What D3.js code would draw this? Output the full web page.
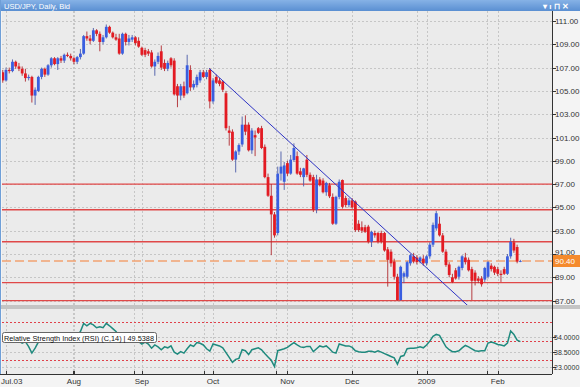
<!DOCTYPE html>
<html>
<head>
<meta charset="utf-8">
<script src="https://cdn.jsdelivr.net/npm/d3@7"></script>
<style>
  body { margin: 0; background: #fff; }
  svg { display: block; font-family: "Liberation Sans", Arial, sans-serif; }
</style>
</head>
<body>
<svg width="580" height="387"></svg>
<script>
// daily bars [open, high, low, close], first bar = Jul 2 2008
const candles = [
  // Jul
  [106.6,106.8,105.7,105.9],[105.9,107.0,105.8,106.8],[106.8,107.0,106.5,106.7],[106.7,107.7,106.6,107.5],
  [107.5,107.6,106.9,107.1],[107.1,107.4,106.7,106.9],[106.9,107.1,106.3,106.5],[106.5,106.9,105.8,106.1],
  [106.1,106.4,105.9,106.2],[106.2,106.3,104.0,104.6],[104.6,105.3,103.8,105.1],[105.0,106.3,104.9,106.2],
  [106.2,107.0,106.0,106.9],[106.9,107.0,106.2,106.4],[106.4,107.3,106.3,107.2],[107.2,107.9,107.0,107.8],
  [107.8,107.9,107.2,107.3],[107.3,107.9,106.8,107.8],[107.8,108.0,107.4,107.6],[107.6,108.2,107.4,108.1],
  [108.1,108.3,107.9,108.0],[108.0,108.2,107.6,107.8],
  // Aug
  [107.8,107.9,107.3,107.5],[107.5,108.0,107.3,107.9],[107.9,108.6,107.7,108.2],[108.2,109.8,108.1,109.7],
  [109.7,110.1,109.3,109.5],[109.5,109.8,109.0,109.3],[109.3,110.4,109.2,110.2],[110.2,110.3,109.7,109.9],
  [109.9,110.1,108.4,109.2],[109.2,109.8,109.0,109.6],[109.6,110.7,109.5,110.5],[110.5,110.6,109.9,110.0],
  [110.0,110.1,109.5,109.6],[109.6,109.9,109.3,109.4],[109.5,109.9,108.1,108.2],[108.2,110.0,108.1,109.9],
  [109.9,110.0,108.9,109.2],[109.2,109.8,108.9,109.5],[109.4,109.8,109.2,109.6],[109.6,109.7,108.9,109.1],
  [109.3,109.6,108.7,108.8],
  // Sep
  [108.7,108.8,108.0,108.1],[108.5,108.7,107.9,108.1],[108.4,108.6,108.0,108.2],[108.3,108.5,107.0,107.1],
  [107.1,107.7,106.3,107.5],[107.5,108.3,107.3,108.0],[108.4,108.9,106.8,107.0],[107.4,107.7,106.7,106.9],
  [106.9,107.6,106.7,107.4],[107.8,107.9,107.0,107.2],[107.6,107.8,104.6,104.7],[105.4,105.6,103.6,104.6],
  [104.6,105.6,104.2,105.4],[105.4,105.8,104.4,104.6],[104.8,108.1,104.7,107.2],[106.8,107.2,105.0,105.3],
  [105.3,105.9,105.1,105.6],[105.5,106.4,105.3,106.2],[105.9,106.8,105.7,106.6],[106.6,106.8,106.1,106.2],
  [106.2,106.8,106.0,106.6],[106.8,106.95,103.5,104.1],
  // Oct
  [104.1,106.1,103.9,105.9],[106.2,106.4,105.6,105.7],[105.9,106.1,105.4,105.6],[105.8,105.9,104.9,105.1],
  [104.8,105.0,101.6,101.8],[101.6,102.0,100.3,101.4],[101.5,101.7,99.0,99.1],[99.1,99.9,98.0,99.8],
  [99.8,100.5,99.5,100.35],[100.4,102.8,100.2,102.1],[102.1,102.9,101.2,101.5],[102.1,102.3,99.8,99.9],
  [99.9,101.8,99.6,101.6],[101.2,101.6,99.4,101.0],[101.8,101.9,101.3,101.4],[101.8,102.0,100.0,100.1],
  [100.2,100.4,97.5,97.6],[97.6,97.9,95.9,96.0],[96.0,97.0,90.9,94.4],[94.4,94.6,92.4,92.6],
  [92.8,98.5,92.6,97.9],[97.9,99.8,97.3,98.5],[97.2,98.9,96.5,98.6],
  // Nov
  [98.8,99.0,97.7,97.9],[97.9,99.5,97.8,99.1],[99.07,100.5,98.9,100.1],[99.4,99.8,97.8,97.9],
  [98.1,98.4,97.6,97.8],[97.6,98.4,96.8,98.35],[99.1,99.5,97.6,97.8],[97.8,98.0,97.2,97.3],
  [97.6,97.8,94.6,94.8],[94.8,97.8,94.5,97.4],[97.4,97.6,96.8,96.9],[97.3,97.5,96.2,96.3],
  [96.3,97.2,96.0,97.1],[96.9,97.1,95.8,95.95],[95.9,96.2,93.5,93.6],[93.6,96.0,93.5,95.9],
  [95.9,97.4,95.7,97.2],[97.35,97.4,94.9,95.05],[95.8,96.0,95.0,95.2],[95.2,95.8,95.0,95.6],
  // Dec
  [95.6,95.8,94.9,95.0],[95.5,95.6,92.9,93.05],[93.6,93.9,92.9,93.05],[93.3,93.8,92.8,93.0],
  [93.3,93.5,92.8,92.9],[93.35,93.5,91.9,92.05],[92.05,93.0,91.6,92.9],[92.8,93.0,92.4,92.6],
  [92.8,92.9,91.9,92.05],[92.8,93.0,91.9,92.05],[92.8,92.9,91.2,91.3],[91.4,91.6,88.2,90.5],
  [91.2,91.4,89.9,90.2],[90.35,90.6,88.8,89.05],[89.05,89.3,87.0,87.05],[87.05,90.0,87.0,89.9],
  [89.05,89.5,88.5,89.35],[89.05,90.4,88.9,90.3],[90.2,91.0,90.0,90.9],[90.8,91.1,90.2,90.35],
  [90.7,90.9,90.1,90.3],[90.4,90.8,90.2,90.7],[90.6,90.9,90.0,90.2],
  // Jan
  [90.2,90.9,90.0,90.8],[90.8,92.0,90.6,91.8],[91.8,93.7,91.6,93.5],[93.2,94.7,93.0,94.5],
  [93.6,94.2,92.5,92.6],[92.6,92.8,91.1,91.2],[91.2,91.4,89.9,90.05],[90.1,90.3,89.0,89.2],
  [89.0,89.3,88.5,88.6],[89.6,89.8,88.8,88.9],[89.05,90.0,88.8,89.9],[89.8,90.9,89.6,90.8],
  [90.7,91.1,90.1,90.3],[90.5,90.7,89.5,89.6],[89.7,89.9,87.05,88.7],[89.4,89.6,88.3,88.7],
  [88.9,89.1,88.5,88.7],[88.9,89.1,88.2,88.4],[88.8,89.9,88.6,89.8],[89.05,90.4,88.9,90.3],
  [90.0,90.2,89.5,89.7],[89.9,90.0,89.2,89.4],
  // Feb
  [89.7,89.9,89.1,89.3],[89.3,89.6,88.6,89.2],[89.7,89.9,89.2,89.3],[89.3,91.0,89.2,90.8],
  [90.8,92.4,90.6,92.05],[92.0,92.3,91.1,91.3],[91.6,91.8,90.2,90.35],[90.35,90.5,90.3,90.4]
];

// RSI(14), one value per bar
const rsiValues = [
  50,51,52,53,51,50,48,49.5,44.3,37.5,42.6,49,52,51,53,54,52,53,52,54,53,52,
  54,56,60,68.5,66,68.5,67,64,65,64,68.5,66,63,60,55,56,55,53,52,50,49.5,
  47,49,47,42.6,46,44,41,44,43,45,38.5,36.4,39,37.5,42,46,44.5,48.5,47.8,46,42,39.5,
  47,46,45,43,38,33,27.8,31,32,41,40,36,41,42,43,41,37,33.5,30,23.5,40,41,42,
  43.5,46,48.5,46,44,43.5,44.5,44.5,39,42,45,44,45,42,38.5,37.5,47,46,45,45,
  43.5,40,39,38.5,38.5,39.5,39.5,38.5,40,38.5,37,35.5,34,32.5,26,34,35,42,42.5,42.5,43,44,43,
  46,50,55,57,56,50,44,41,39,39,40,43,45.5,44,42,40,39.5,40,40,48,49,48,
  46.5,46,45,48,60.5,57,51,49.54
];

const priceTicks = [87, 89, 91, 93, 95, 97, 99, 101, 103, 105, 107, 109, 111];
const rsiTicks = [23, 38.5, 54];
const rsiLevels = [30, 50, 70];
const levelLines = [97.0, 94.8, 92.05, 88.55, 87.0];
const lastPrice = 90.40;
const lastRsi = 49.5388;
const monthLabels = ["Jul.03", "Aug", "Sep", "Oct", "Nov", "Dec", "2009", "Feb"];
const monthIdx = [1, 22, 43, 65, 88, 108, 131, 153];
const gridIdx = [21.6, 40.6, 62.2, 84.5, 108, 128, 149.7];
const trendIdx = [63.8, 144.1];
const trendPrice = [106.94, 86.48];

const svg = d3.select("svg");
const L = 2, R = 552, T = 11, B = 305, RT = 309, RB = 374;

// scales
const x = d3.scaleLinear().domain([0, 160]).range([2.77, 2.77 + 160 * 3.235]);
const y = d3.scaleLinear().domain([87, 111]).range([300.6, 21]);
const yr = d3.scaleLinear().domain([23, 54]).range([367, 337.3]);

// backgrounds
svg.append("rect").attr("width", 580).attr("height", 387).attr("fill", "#f4f4f4");
svg.append("rect").attr("x", L).attr("y", T).attr("width", R - L).attr("height", B - T).attr("fill", "#ebebeb");
svg.append("rect").attr("x", 0).attr("y", B).attr("width", 580).attr("height", RT - B).attr("fill", "#c4c4c4");
svg.append("rect").attr("x", L).attr("y", RT).attr("width", R - L).attr("height", RB - RT).attr("fill", "#ebebeb");

const defs = svg.append("defs");
defs.append("clipPath").attr("id", "clipMain")
  .append("rect").attr("x", L).attr("y", T).attr("width", R - L).attr("height", B - T);
defs.append("clipPath").attr("id", "clipRsi")
  .append("rect").attr("x", L).attr("y", RT).attr("width", R - L).attr("height", RB - RT);
const grad = defs.append("linearGradient").attr("id", "titleGrad").attr("x1", 0).attr("y1", 0).attr("x2", 0).attr("y2", 1);
grad.append("stop").attr("offset", "0%").attr("stop-color", "#86b2e6");
grad.append("stop").attr("offset", "100%").attr("stop-color", "#5a8fd2");

// grid lines
const allIdx = gridIdx.concat(monthIdx);
const grid = svg.append("g").attr("stroke", "#c6c6c6").attr("stroke-dasharray", "2,2").attr("stroke-width", 1);
grid.selectAll(".hg").data(priceTicks).enter().append("line")
  .attr("x1", L).attr("x2", R).attr("y1", d => Math.round(y(d)) + 0.5).attr("y2", d => Math.round(y(d)) + 0.5);
grid.selectAll(".vg").data(allIdx).enter().append("line")
  .attr("x1", d => Math.round(x(d)) + 0.5).attr("x2", d => Math.round(x(d)) + 0.5).attr("y1", T).attr("y2", B);
grid.selectAll(".vr").data(allIdx).enter().append("line")
  .attr("x1", d => Math.round(x(d)) + 0.5).attr("x2", d => Math.round(x(d)) + 0.5).attr("y1", RT).attr("y2", RB);
grid.selectAll(".rg").data(rsiTicks).enter().append("line")
  .attr("x1", L).attr("x2", R).attr("y1", d => Math.round(yr(d)) + 0.5).attr("y2", d => Math.round(yr(d)) + 0.5);

// support / resistance lines
const main = svg.append("g").attr("clip-path", "url(#clipMain)");
main.selectAll(".lvl").data(levelLines).enter().append("line")
  .attr("x1", L).attr("x2", R).attr("y1", d => y(d)).attr("y2", d => y(d))
  .attr("stroke", "#e04848").attr("stroke-width", 1.3);

// last price dashed line
main.append("line")
  .attr("x1", L).attr("x2", R).attr("y1", y(lastPrice)).attr("y2", y(lastPrice))
  .attr("stroke", "#f2a272").attr("stroke-width", 1.3).attr("stroke-dasharray", "9,4");

// candles
const up = "#3a5ee0", down = "#e31b23";
const bars = main.selectAll(".c").data(candles).enter().append("g");
bars.append("line")
  .attr("x1", (d, i) => x(i)).attr("x2", (d, i) => x(i))
  .attr("y1", d => y(d[1])).attr("y2", d => y(d[2]))
  .attr("stroke", d => d[3] >= d[0] ? "#4a5aa8" : "#b02a30").attr("stroke-width", 0.9);
bars.append("rect")
  .attr("x", (d, i) => x(i) - 1.4).attr("width", 2.8)
  .attr("y", d => y(Math.max(d[0], d[3])))
  .attr("height", d => Math.max(0.8, Math.abs(y(d[0]) - y(d[3]))))
  .attr("fill", d => d[3] >= d[0] ? up : down);

// trend line
main.append("line")
  .attr("x1", x(trendIdx[0])).attr("y1", y(trendPrice[0]))
  .attr("x2", x(trendIdx[1])).attr("y2", y(trendPrice[1]))
  .attr("stroke", "#2f34c4").attr("stroke-width", 1);

// RSI panel
const rsiG = svg.append("g").attr("clip-path", "url(#clipRsi)");
rsiG.selectAll(".rl").data(rsiLevels).enter().append("line")
  .attr("x1", L).attr("x2", R).attr("y1", d => Math.round(yr(d)) + 0.5).attr("y2", d => Math.round(yr(d)) + 0.5)
  .attr("stroke", "#e0404a").attr("stroke-dasharray", "2,2");
rsiG.append("path")
  .datum(rsiValues)
  .attr("fill", "none")
  .attr("stroke", "#1f8a7e")
  .attr("stroke-width", 1.5)
  .attr("d", d3.line().x((d, i) => x(i)).y(d => yr(d)));

// RSI legend
svg.append("rect").attr("x", 2.5).attr("y", 332.5).attr("width", 154).attr("height", 10)
  .attr("rx", 2).attr("fill", "#fff").attr("stroke", "#666");
svg.append("text").attr("x", 4).attr("y", 340.5)
  .style("font-size", "7.5px").attr("fill", "#111")
  .attr("textLength", 150).attr("lengthAdjust", "spacingAndGlyphs")
  .text("Relative Strength Index (RSI) (C,14) | " + lastRsi.toFixed(4));

// price axis
svg.append("line").attr("x1", R + 0.5).attr("x2", R + 0.5).attr("y1", T).attr("y2", RB).attr("stroke", "#333");
const pAxis = svg.append("g");
pAxis.selectAll("line").data(priceTicks).enter().append("line")
  .attr("x1", R).attr("x2", R + 4).attr("y1", d => Math.round(y(d)) + 0.5).attr("y2", d => Math.round(y(d)) + 0.5)
  .attr("stroke", "#333");
pAxis.selectAll("text").data(priceTicks.filter(d => Math.abs(y(d) - y(lastPrice)) > 8)).enter().append("text")
  .attr("x", R + 3).attr("y", d => y(d) + 3)
  .style("font-size", "8px").attr("fill", "#333")
  .text(d => d3.format(".2f")(d));

// last price tag (sits just under the 91.00 label)
svg.append("text").attr("x", R + 3).attr("y", y(91) + 1)
  .style("font-size", "8px").attr("fill", "#333").text("91.00");
svg.append("rect").attr("x", R + 1).attr("y", y(lastPrice) - 6).attr("width", 27).attr("height", 12)
  .attr("fill", "#f58a2c");
svg.append("text").attr("x", R + 3).attr("y", y(lastPrice) + 3)
  .style("font-size", "8px").attr("fill", "#fff").text(lastPrice.toFixed(2));

// rsi axis
const rAxis = svg.append("g");
rAxis.selectAll("line").data(rsiTicks).enter().append("line")
  .attr("x1", R).attr("x2", R + 4).attr("y1", d => Math.round(yr(d)) + 0.5).attr("y2", d => Math.round(yr(d)) + 0.5)
  .attr("stroke", "#333");
rAxis.selectAll("text").data(rsiTicks).enter().append("text")
  .attr("x", R + 2).attr("y", d => yr(d) + 3)
  .style("font-size", "7px").attr("fill", "#333")
  .text(d => d3.format(".4f")(d));

// date axis (first label kept inside the frame)
svg.append("line").attr("x1", 0).attr("x2", R).attr("y1", RB + 0.5).attr("y2", RB + 0.5).attr("stroke", "#333");
svg.append("g").selectAll("line").data(allIdx).enter().append("line")
  .attr("x1", d => Math.round(x(d)) + 0.5).attr("x2", d => Math.round(x(d)) + 0.5)
  .attr("y1", RB - 3).attr("y2", RB).attr("stroke", "#333");
svg.append("g").selectAll("text").data(monthLabels).enter().append("text")
  .attr("x", (d, i) => i === 0 ? 1 : x(monthIdx[i])).attr("y", 384)
  .attr("text-anchor", (d, i) => i === 0 ? "start" : "middle")
  .style("font-size", "8px").attr("fill", "#333")
  .text(d => d);

// window frame + title bar
svg.append("rect").attr("x", 0).attr("y", 0).attr("width", 580).attr("height", 11).attr("fill", "url(#titleGrad)");
svg.append("text").attr("x", 4).attr("y", 8.5)
  .style("font-size", "7.5px").attr("fill", "#fff")
  .text("USD/JPY, Daily, Bid");
svg.append("text").attr("x", 543).attr("y", 8.5)
  .style("font-size", "8px").attr("fill", "#fff").attr("font-weight", "bold")
  .text("\u25BE \u0131 \u2293 \u2715");
svg.append("line").attr("x1", 0.5).attr("x2", 0.5).attr("y1", 0).attr("y2", RB)
  .attr("stroke", "#6f9fd8").attr("stroke-width", 1);
</script>
</body>
</html>
